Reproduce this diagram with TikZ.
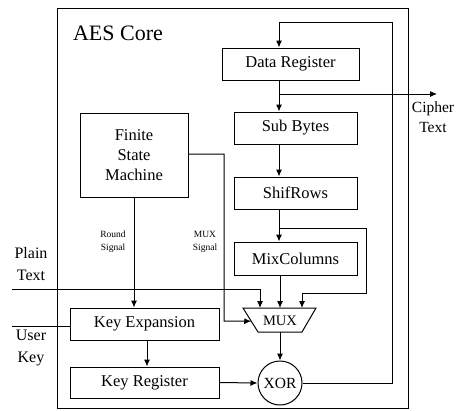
\documentclass[tikz,border=0pt]{standalone}
\usepackage{fontspec}
\setmainfont{Liberation Serif}
\usetikzlibrary{arrows.meta,calc}
\begin{document}
\begin{tikzpicture}[x=1pt,y=-1pt,
  every path/.style={line width=1pt},
  blk/.style={draw,rectangle,inner sep=0pt,font=\fontsize{16.5}{18}\selectfont,align=center},
  lbl/.style={inner sep=0pt,font=\fontsize{16}{22}\selectfont,align=center},
  small/.style={inner sep=0pt,font=\fontsize{9.5}{13}\selectfont,align=center},
  arr/.style={-{Latex[length=7pt,width=6pt]}}]
\useasboundingbox (0,0) rectangle (463,410);
\draw (57,8) rectangle (408,408);
\node[inner sep=0pt,font=\fontsize{22}{24}\selectfont] (title) at (118,33) {AES Core};

\node[blk,minimum width=137pt,minimum height=32pt] (dr) at (290.5,64) {Data Register};
\node[blk,minimum width=123pt,minimum height=32pt] (sb) at (295.5,128) {Sub Bytes};
\node[blk,minimum width=123pt,minimum height=32pt] (sr) at (295.5,193) {ShifRows};
\node[blk,minimum width=123pt,minimum height=33pt] (mc) at (295.5,258.5) {MixColumns};
\node[blk,minimum width=108pt,minimum height=84pt,font=\fontsize{16.5}{20}\selectfont] (fsm) at (134,155) {Finite\\State\\Machine};
\node[blk,minimum width=149pt,minimum height=32pt] (ke) at (144.5,324) {Key Expansion};
\node[blk,minimum width=149pt,minimum height=31pt] (kr) at (144.5,382.5) {Key Register};
\node[draw,circle,minimum size=44pt,inner sep=0pt,font=\fontsize{15.5}{17}\selectfont] (xor) at (280,383) {XOR};

% MUX trapezoid
\coordinate (m1) at (243,308);
\coordinate (m2) at (316,308);
\coordinate (m3) at (302,332);
\coordinate (m4) at (258,332);
\draw (m1) -- (m2) -- (m3) -- (m4) -- cycle;
\node[inner sep=0pt,font=\fontsize{14.5}{16}\selectfont] (mux) at (280,320.5) {MUX};
\coordinate (muxl) at ($(m1)!0.55!(m4)$);

% column coordinate
\coordinate (cx) at (279,0);
\coordinate (cx2) at (280,0);

% main datapath
\draw[arr] (dr.south -| cx) -- (sb.north -| cx);
\draw[arr] (sb.south -| cx) -- (sr.north -| cx);
\draw[arr] (sr.south -| cx) -- (mc.north -| cx);
\draw[arr] (mc.south -| cx2) -- (m1 -| cx2);
\draw[arr] (m4 -| cx2) -- (xor.north);
\draw[arr] (kr.east) -- (xor.west);

% cipher text
\coordinate (ct0) at (279,94);
\coordinate (ct1) at (437,94);
\draw[arr] (ct0) -- (ct1);
\node[lbl,font=\fontsize{15.5}{20}\selectfont] (ctl) at (433,117) {Cipher\\Text};

% feedback
\coordinate (fb1) at (392,383);
\coordinate (fb2) at (392,22);
\coordinate (fb3) at (279,22);
\draw[arr] (xor.east) -- (fb1) -- (fb2) -- (fb3) -- (dr.north -| fb3);

% bypass around MixColumns
\coordinate (by1) at (279,228);
\coordinate (by2) at (366,228);
\coordinate (by3) at (366,293);
\coordinate (by4) at (302,293);
\draw[arr] (by1) -- (by2) -- (by3) -- (by4) -- (302,308);

% plain text
\coordinate (pt0) at (12,289);
\coordinate (pt1) at (260,289);
\draw[arr] (pt0) -- (pt1) -- (260,308);
\node[lbl] (ptl) at (31,264) {Plain\\Text};

% user key
\coordinate (uk0) at (12,326);
\draw (uk0) -- (ke.west |- uk0);
\node[lbl] (ukl) at (31,348) {User\\Key};

% FSM signals
\coordinate (ms0) at (fsm.east |- 0,154);
\coordinate (ms1) at (224,154);
\coordinate (ms2) at (224,321);
\draw[arr] (ms0) -- (ms1) -- (ms2) -- (muxl);
\node[small] (msl) at (205,242) {MUX\\Signal};

\coordinate (rs) at (134,0);
\draw[arr] (fsm.south -| rs) -- (ke.north -| rs);
\node[small] (rsl) at (113,242) {Round\\Signal};

\coordinate (kx) at (147,0);
\draw[arr] (ke.south -| kx) -- (kr.north -| kx);
\end{tikzpicture}
\end{document}
